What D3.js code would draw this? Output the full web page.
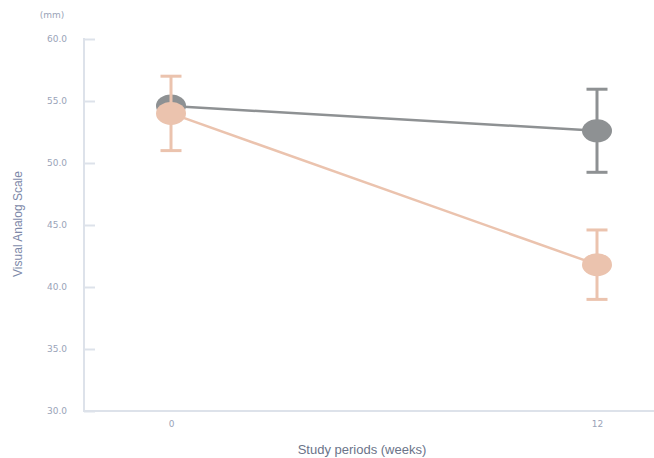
<!DOCTYPE html>
<meta charset="utf-8">
<style>
  body { margin: 0; background: #fff; }
  text { font-family: "Liberation Sans", Arial, sans-serif; }
  .axis path, .axis line { stroke: #dde2ea; stroke-width: 2px; }
  .axis text { fill: #9aa3b8; font-size: 9px; font-family: "DejaVu Sans", sans-serif; }
</style>
<body>
<script src="https://d3js.org/d3.v7.min.js"></script>
<script>
  // chart values
  var weeks = ["0", "12"];
  var yTicks = [30, 35, 40, 45, 50, 55, 60];
  var grayMean = [54.6, 52.6];
  var grayErr = [0, 3.35];
  var peachMean = [54.0, 41.8];
  var peachErr = [3.0, 2.8];

  var W = 654, H = 458;
  var svg = d3.select("body").append("svg")
    .attr("width", W)
    .attr("height", H);

  var x = d3.scalePoint().domain(weeks).range([171, 597]);
  var y = d3.scaleLinear().domain([30, 60]).range([411, 39]);

  // y axis, ticks pointing inward
  var yAxis = svg.append("g")
    .attr("class", "axis")
    .attr("transform", "translate(84,0)")
    .call(d3.axisLeft(y).tickValues(yTicks).tickFormat(d3.format(".1f"))
      .tickSize(-11).tickSizeOuter(0).tickPadding(17));
  yAxis.select(".domain").remove();
  yAxis.append("line").attr("x1", 0).attr("x2", 0).attr("y1", y(60) - 1).attr("y2", y(30));

  // x axis
  var xAxis = svg.append("g")
    .attr("class", "axis")
    .attr("transform", "translate(0," + y(30) + ")")
    .call(d3.axisBottom(x).tickSize(0).tickPadding(10));
  xAxis.select(".domain").remove();
  xAxis.append("line").attr("x1", 83).attr("x2", W).attr("y1", 0).attr("y2", 0);

  // axis titles
  svg.append("text").attr("x", 52).attr("y", 18).attr("text-anchor", "middle")
    .style("font-size", "9px").style("font-family", "DejaVu Sans, sans-serif")
    .style("fill", "#9aa3b8").text("(mm)");
  svg.append("text").attr("x", 362).attr("y", 454).attr("text-anchor", "middle")
    .style("font-size", "13px").style("fill", "#6b7489").text("Study periods (weeks)");
  svg.append("text").attr("transform", "translate(22,224) rotate(-90)").attr("text-anchor", "middle")
    .style("font-size", "12px").style("fill", "#7d88a8").text("Visual Analog Scale");

  function drawSeries(means, errs, color) {
    var pts = weeks.map(function (w, i) { return { w: w, m: means[i], e: errs[i] }; });
    var line = d3.line()
      .x(function (d) { return x(d.w); })
      .y(function (d) { return y(d.m); });
    svg.append("path").datum(pts)
      .attr("d", line)
      .attr("fill", "none")
      .attr("stroke", color)
      .attr("stroke-width", 2.5);

    var g = svg.append("g").attr("stroke", color).attr("stroke-width", 3);
    pts.filter(function (d) { return d.e > 0; }).forEach(function (d) {
      var cx = x(d.w);
      g.append("line").attr("x1", cx).attr("x2", cx).attr("y1", y(d.m + d.e)).attr("y2", y(d.m - d.e));
      g.append("line").attr("x1", cx - 10.5).attr("x2", cx + 10.5).attr("y1", y(d.m + d.e)).attr("y2", y(d.m + d.e));
      g.append("line").attr("x1", cx - 10.5).attr("x2", cx + 10.5).attr("y1", y(d.m - d.e)).attr("y2", y(d.m - d.e));
    });

    svg.selectAll(null).data(pts).enter().append("ellipse")
      .attr("cx", function (d) { return x(d.w); })
      .attr("cy", function (d) { return y(d.m); })
      .attr("rx", 15)
      .attr("ry", 11.5)
      .attr("fill", color);
  }

  drawSeries(grayMean, grayErr, "#8e9193");
  drawSeries(peachMean, peachErr, "#ebc3ae");
</script>
</body>
